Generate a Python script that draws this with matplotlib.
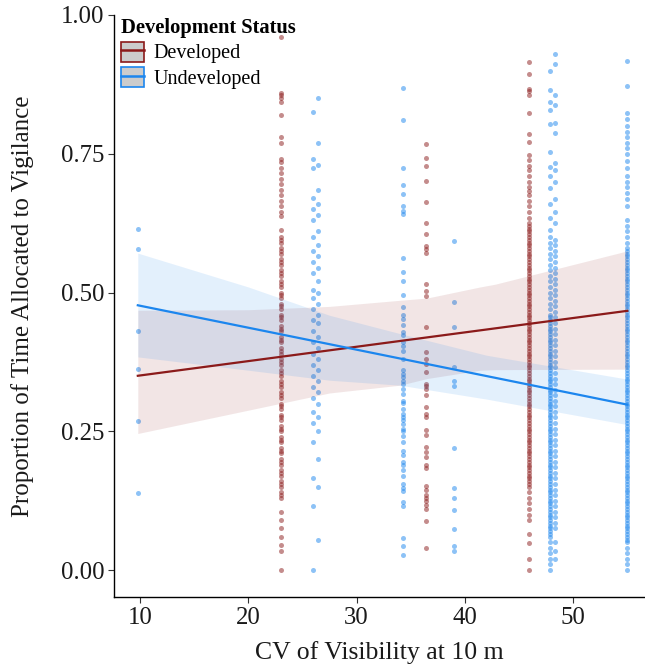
import matplotlib
matplotlib.use("Agg")
import matplotlib.pyplot as plt
from matplotlib.patches import Patch
from matplotlib.lines import Line2D

plt.rcParams['font.family'] = ['Liberation Serif', 'DejaVu Serif']

###############################################################################
# data
# Developed sites (red)
dev_x = [23.0, 36.4, 45.9]
dev_y_23 = [0.96, 0.86, 0.855, 0.85, 0.843, 0.82, 0.78, 0.77, 0.74, 0.735, 0.725,
            0.715, 0.705, 0.695, 0.685, 0.675, 0.665, 0.655, 0.645, 0.638, 0.613,
            0.60, 0.59, 0.58, 0.57, 0.56, 0.55, 0.54, 0.53, 0.52, 0.51, 0.50,
            0.49, 0.48, 0.47, 0.46, 0.45, 0.44, 0.43, 0.42, 0.41, 0.40, 0.39,
            0.38, 0.37, 0.36, 0.35, 0.34, 0.33, 0.32, 0.31, 0.30, 0.29, 0.28,
            0.27, 0.26, 0.25, 0.24, 0.23, 0.22, 0.21, 0.20, 0.19, 0.18, 0.17,
            0.16, 0.15, 0.14, 0.13, 0.105, 0.09, 0.075, 0.06, 0.045, 0.035, 0.0,
            # second layer, the solid part of the stripe
            0.595, 0.575, 0.555, 0.535, 0.515, 0.495, 0.475, 0.455, 0.435, 0.415,
            0.395, 0.375, 0.355, 0.335, 0.315, 0.295, 0.275, 0.255, 0.235, 0.215,
            0.195, 0.175, 0.155, 0.135]
dev_y_36 = [0.767, 0.742, 0.728, 0.701, 0.663, 0.625, 0.606, 0.583, 0.578, 0.572,
            0.515, 0.503, 0.493, 0.437, 0.392, 0.381, 0.372, 0.357, 0.336, 0.332,
            0.326, 0.315, 0.293, 0.282, 0.276, 0.253, 0.244, 0.222, 0.212, 0.203,
            0.189, 0.184, 0.152, 0.145, 0.135, 0.130, 0.124, 0.117, 0.110, 0.088,
            0.039]
dev_y_46 = [0.915, 0.893, 0.867, 0.863, 0.855, 0.824, 0.786, 0.772, 0.748, 0.738,
            0.728, 0.72, 0.71, 0.70, 0.69, 0.682, 0.675, 0.665, 0.655, 0.645,
            0.635, 0.625, 0.62, 0.61, 0.60, 0.59, 0.58, 0.57, 0.56, 0.55, 0.54,
            0.53, 0.52, 0.51, 0.50, 0.49, 0.48, 0.47, 0.46, 0.45, 0.44, 0.43,
            0.42, 0.41, 0.40, 0.39, 0.38, 0.37, 0.36, 0.35, 0.34, 0.33, 0.32,
            0.31, 0.30, 0.29, 0.28, 0.27, 0.26, 0.25, 0.24, 0.23, 0.22, 0.21,
            0.20, 0.19, 0.18, 0.17, 0.16, 0.15, 0.14, 0.13, 0.12, 0.11, 0.10,
            0.09, 0.065, 0.048, 0.02, 0.0,
            # second layer
            0.615, 0.605, 0.595, 0.585, 0.575, 0.565, 0.555, 0.545, 0.535, 0.525,
            0.515, 0.505, 0.495, 0.485, 0.475, 0.465, 0.455, 0.445, 0.435, 0.425,
            0.415, 0.405, 0.395, 0.385, 0.375, 0.365, 0.355, 0.345, 0.335, 0.325,
            0.315, 0.305, 0.295, 0.285, 0.275, 0.265, 0.255, 0.245, 0.235, 0.225,
            0.215, 0.205, 0.195, 0.185, 0.175, 0.165, 0.155]
dev_y = [dev_y_23, dev_y_36, dev_y_46]

# Undeveloped sites (blue)
und_x = [9.8, 26.0, 26.4, 34.3, 39.0, 47.9, 48.3, 55.0]
und_y_10 = [0.615, 0.578, 0.43, 0.363, 0.268, 0.138]
und_y_26a = [0.825, 0.74, 0.725, 0.67, 0.65, 0.63, 0.60, 0.575, 0.555, 0.535,
             0.505, 0.49, 0.47, 0.45, 0.43, 0.41, 0.39, 0.37, 0.35, 0.33, 0.31,
             0.285, 0.265, 0.23, 0.165, 0.115, 0.0]
und_y_26b = [0.85, 0.77, 0.73, 0.685, 0.66, 0.64, 0.61, 0.585, 0.565, 0.545,
             0.52, 0.50, 0.48, 0.46, 0.445, 0.42, 0.40, 0.38, 0.36, 0.34, 0.32,
             0.30, 0.275, 0.25, 0.20, 0.15, 0.055]
und_y_34 = [0.868, 0.811, 0.724, 0.693, 0.678, 0.656, 0.646, 0.641, 0.563, 0.537,
            0.520, 0.495, 0.474, 0.459, 0.453, 0.441, 0.428, 0.424, 0.411, 0.403,
            0.394, 0.381, 0.360, 0.354, 0.347, 0.341, 0.335, 0.326, 0.318, 0.304,
            0.301, 0.291, 0.282, 0.276, 0.270, 0.264, 0.254, 0.251, 0.242, 0.230,
            0.214, 0.208, 0.195, 0.189, 0.180, 0.170, 0.155, 0.148, 0.142, 0.122,
            0.116, 0.058, 0.044, 0.027]
und_y_39 = [0.593, 0.483, 0.437, 0.366, 0.340, 0.332, 0.219, 0.148, 0.129, 0.109,
            0.074, 0.044, 0.035]
und_y_48a = [0.899, 0.865, 0.844, 0.829, 0.803, 0.753, 0.727, 0.71, 0.689, 0.66,
             0.635, 0.613, 0.60, 0.59, 0.58, 0.57, 0.56, 0.55, 0.54, 0.53, 0.52,
             0.51, 0.50, 0.49, 0.48, 0.47, 0.46, 0.45, 0.44, 0.43, 0.42, 0.41,
             0.40, 0.39, 0.38, 0.37, 0.36, 0.35, 0.34, 0.33, 0.32, 0.31, 0.30,
             0.29, 0.28, 0.27, 0.26, 0.25, 0.24, 0.23, 0.22, 0.21, 0.20, 0.19,
             0.18, 0.17, 0.16, 0.15, 0.14, 0.13, 0.12, 0.11, 0.10, 0.09, 0.08,
             0.07, 0.06, 0.05, 0.04, 0.03, 0.02, 0.01, 0.0,
             # second layer
             0.455, 0.445, 0.435, 0.425, 0.415, 0.405, 0.395, 0.385, 0.375, 0.365,
             0.355, 0.345, 0.335, 0.325, 0.315, 0.305, 0.295, 0.285, 0.275, 0.265,
             0.255, 0.245, 0.235, 0.225, 0.215, 0.205, 0.195, 0.185, 0.175, 0.165,
             0.155, 0.145, 0.135, 0.125, 0.115, 0.105, 0.095, 0.085, 0.075, 0.065]
und_y_48b = [0.93, 0.911, 0.855, 0.837, 0.806, 0.787, 0.734, 0.72, 0.70, 0.668,
             0.645, 0.625, 0.595, 0.585, 0.575, 0.565, 0.555, 0.545, 0.535, 0.525,
             0.515, 0.505, 0.495, 0.485, 0.475, 0.465, 0.455, 0.445, 0.435, 0.425,
             0.415, 0.405, 0.395, 0.385, 0.375, 0.365, 0.355, 0.345, 0.335, 0.325,
             0.315, 0.305, 0.295, 0.285, 0.275, 0.265, 0.255, 0.245, 0.235, 0.225,
             0.215, 0.205, 0.195, 0.185, 0.175, 0.165, 0.155, 0.145, 0.135, 0.125,
             0.115, 0.105, 0.095, 0.085, 0.075, 0.05, 0.035, 0.02]
und_y_55 = [0.918, 0.872, 0.824, 0.813, 0.80, 0.79, 0.78, 0.77, 0.76, 0.75, 0.737,
            0.724, 0.71, 0.70, 0.69, 0.68, 0.668, 0.655, 0.63, 0.62, 0.61, 0.60,
            0.59, 0.58, 0.57, 0.56, 0.55, 0.54, 0.53, 0.52, 0.51, 0.50, 0.49,
            0.48, 0.47, 0.46, 0.45, 0.44, 0.43, 0.42, 0.41, 0.40, 0.39, 0.38,
            0.37, 0.36, 0.35, 0.34, 0.33, 0.32, 0.31, 0.30, 0.29, 0.28, 0.27,
            0.26, 0.25, 0.24, 0.23, 0.22, 0.21, 0.20, 0.19, 0.18, 0.17, 0.16,
            0.15, 0.14, 0.13, 0.12, 0.11, 0.10, 0.09, 0.08, 0.07, 0.06, 0.05,
            0.04, 0.03, 0.02, 0.01, 0.0,
            # second layer
            0.575, 0.565, 0.555, 0.545, 0.535, 0.525, 0.515, 0.505, 0.495, 0.485,
            0.475, 0.465, 0.455, 0.445, 0.435, 0.425, 0.415, 0.405, 0.395, 0.385,
            0.375, 0.365, 0.355, 0.345, 0.335, 0.325, 0.315, 0.305, 0.295, 0.285,
            0.275, 0.265, 0.255, 0.245, 0.235, 0.225, 0.215, 0.205, 0.195, 0.185,
            0.175, 0.165, 0.155, 0.145, 0.135, 0.125, 0.115, 0.105, 0.095, 0.085,
            0.075, 0.065, 0.055]
und_y = [und_y_10, und_y_26a, und_y_26b, und_y_34, und_y_39, und_y_48a,
         und_y_48b, und_y_55]

# fitted lines and confidence bands
dev_fit_x = [9.8, 55.0]
dev_fit_y = [0.350, 0.467]
dev_band_x = [9.8, 20.0, 27.5, 34.0, 36.5, 41.4, 42.8, 55.0]
dev_band_hi = [0.468, 0.469, 0.475, 0.486, 0.490, 0.510, 0.515, 0.575]
dev_band_lo = [0.246, 0.288, 0.319, 0.333, 0.345, 0.360, 0.361, 0.362]

und_fit_x = [9.8, 55.0]
und_fit_y = [0.477, 0.298]
und_band_x = [9.8, 20.0, 27.5, 34.0, 42.0, 55.0]
und_band_hi = [0.571, 0.510, 0.459, 0.426, 0.387, 0.344]
und_band_lo = [0.384, 0.360, 0.342, 0.333, 0.308, 0.262]

status_labels = ['Developed', 'Undeveloped']
x_ticks = [10, 20, 30, 40, 50]
y_ticks = [0.00, 0.25, 0.50, 0.75, 1.00]

###############################################################################
red = '#8B1A1A'
blue = '#1C86EE'

fig = plt.figure(figsize=(6.45, 6.69), dpi=100)
ax = fig.add_axes([0.1767, 0.1076, 0.8233, 0.870])

# points
for xv, ys in zip(dev_x, dev_y):
    ax.scatter([xv] * len(ys), ys, s=13, color=red, alpha=0.5, linewidths=0, zorder=2)
for xv, ys in zip(und_x, und_y):
    ax.scatter([xv] * len(ys), ys, s=13, color=blue, alpha=0.5, linewidths=0, zorder=2)

# bands
ax.fill_between(dev_band_x, dev_band_lo, dev_band_hi, color=red, alpha=0.11, lw=0, zorder=3)
ax.fill_between(und_band_x, und_band_lo, und_band_hi, color=blue, alpha=0.12, lw=0, zorder=3)

# lines
ax.plot(dev_fit_x, dev_fit_y, color=red, lw=1.6, zorder=4)
ax.plot(und_fit_x, und_fit_y, color=blue, lw=1.6, zorder=4)

ax.set_xlim(7.6, 56.63)
ax.set_ylim(-0.0486, 1.0)
ax.set_xticks(x_ticks)
ax.set_yticks(y_ticks)
ax.set_yticklabels(['%.2f' % v for v in y_ticks])
ax.tick_params(labelsize=17.8, length=4, width=0.8, color='#333333', labelcolor='#1a1a1a', pad=3)
for side in ['top', 'right']:
    ax.spines[side].set_visible(False)
for side in ['left', 'bottom']:
    ax.spines[side].set_linewidth(1.0)
    ax.spines[side].set_color('black')

ax.set_xlabel('CV of Visibility at 10 m', fontsize=18.5, color='#1a1a1a', labelpad=9)
ax.set_ylabel('Proportion of Time Allocated to Vigilance', fontsize=18, color='#1a1a1a', labelpad=19)

# legend
handles = [(Patch(facecolor='#CCCCCC', edgecolor=red, lw=1.2), Line2D([], [], color=red, lw=1.8)),
           (Patch(facecolor='#CCCCCC', edgecolor=blue, lw=1.2), Line2D([], [], color=blue, lw=1.8))]
leg = ax.legend(handles, status_labels, title='Development Status', loc='upper left',
                bbox_to_anchor=(117 / 645, 1 - 14 / 669), bbox_transform=fig.transFigure,
                frameon=False, fontsize=14.5, title_fontproperties={'weight': 'bold', 'size': 14.8},
                handlelength=1.15, handleheight=1.15, handletextpad=0.45, labelspacing=0.18,
                borderpad=0.2, borderaxespad=0)
leg._legend_box.align = 'left'

fig.savefig('out.png', dpi=100)
